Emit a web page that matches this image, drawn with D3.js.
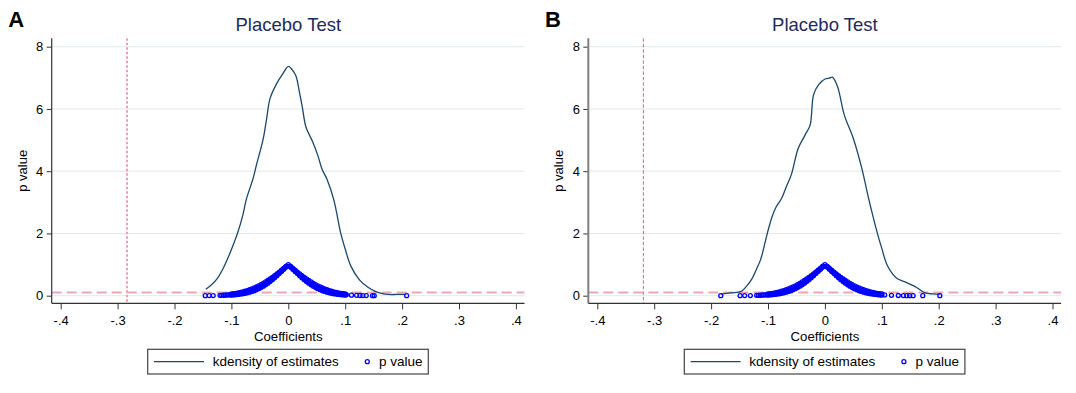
<!DOCTYPE html>
<html>
<head>
<meta charset="utf-8">
<script src="https://cdn.jsdelivr.net/npm/d3@7"></script>
<style>
  html, body { margin: 0; padding: 0; background: #fff; }
  svg { display: block; font-family: "Liberation Sans", Arial, sans-serif; }
</style>
</head>
<body>
<svg id="chart" width="1076" height="393"></svg>
<script>
// ---------------- DATA ----------------
const panelLabels = ["A", "B"];
const chartTitle = "Placebo Test";
const xTicks = [-0.4, -0.3, -0.2, -0.1, 0, 0.1, 0.2, 0.3, 0.4];
const yTicks = [0, 2, 4, 6, 8];
const xLabel = "Coefficients";
const yLabel = "p value";
const legendLabels = ["kdensity of estimates", "p value"];

// true-effect reference lines (vertical) and p = 0.1 line (horizontal)
const trueCoefA = -0.2835;
const trueCoefB = -0.319;
const pThreshold = 0.1;

// kernel density of placebo estimates [coefficient, density]
const kdensA = [
  [-0.145,0.21],[-0.135,0.35],[-0.125,0.55],[-0.115,0.86],[-0.105,1.26],[-0.095,1.72],
  [-0.089,2.02],[-0.080,2.58],[-0.074,3.08],[-0.062,3.76],[-0.056,4.2],[-0.044,5.05],
  [-0.038,5.7],[-0.032,6.34],[-0.020,6.83],[-0.010,7.12],[0.000,7.37],[0.005,7.3],
  [0.013,7.08],[0.020,6.5],[0.025,6.02],[0.031,5.42],[0.043,4.94],[0.052,4.5],
  [0.059,4.08],[0.068,3.74],[0.080,3.08],[0.092,2.02],[0.100,1.5],[0.110,0.95],
  [0.125,0.51],[0.140,0.27],[0.152,0.15],[0.165,0.07],[0.176,0.04],[0.190,0.04],[0.206,0.045]
];
const kdensB = [
  [-0.183,0.05],[-0.165,0.09],[-0.147,0.14],[-0.138,0.3],[-0.128,0.55],[-0.12,0.86],
  [-0.113,1.16],[-0.107,1.57],[-0.101,2.02],[-0.093,2.53],[-0.086,2.84],[-0.076,3.13],
  [-0.068,3.49],[-0.059,3.89],[-0.047,4.73],[-0.035,5.16],[-0.026,5.48],[-0.02,6.45],
  [-0.011,6.78],[0.001,6.97],[0.008,6.99],[0.013,7.02],[0.022,6.73],[0.034,5.81],
  [0.05,5.05],[0.065,4.08],[0.077,3.11],[0.092,2.02],[0.1,1.52],[0.11,0.96],
  [0.125,0.58],[0.14,0.45],[0.158,0.3],[0.176,0.09],[0.19,0.06],[0.203,0.05]
];

// p values of placebo estimates [coefficient, p] (centre of the dense band + sparse tails)
const pvalA = [
  [-0.146,0.002],[-0.139,0.003],[-0.132,0.005],[-0.120,0.011],
  [-0.117,0.013],[-0.114,0.015],[-0.111,0.018],[-0.108,0.022],[-0.105,0.025],[-0.102,0.030],
  [-0.099,0.035],[-0.096,0.041],[-0.093,0.048],[-0.090,0.055],[-0.087,0.064],[-0.084,0.074],
  [-0.081,0.085],[-0.078,0.097],[-0.075,0.110],[-0.072,0.126],[-0.069,0.142],[-0.066,0.160],
  [-0.063,0.180],[-0.060,0.202],[-0.057,0.225],[-0.054,0.251],[-0.051,0.278],[-0.048,0.307],
  [-0.045,0.338],[-0.042,0.372],[-0.039,0.407],[-0.036,0.444],[-0.033,0.483],[-0.030,0.523],
  [-0.027,0.566],[-0.024,0.610],[-0.021,0.655],[-0.018,0.702],[-0.015,0.750],[-0.012,0.798],
  [-0.009,0.848],[-0.006,0.898],[-0.003,0.949],[0.000,1.000],
  [0.003,0.949],[0.006,0.898],[0.009,0.848],[0.012,0.798],[0.015,0.750],[0.018,0.702],
  [0.021,0.655],[0.024,0.610],[0.027,0.566],[0.030,0.523],[0.033,0.483],[0.036,0.444],
  [0.039,0.407],[0.042,0.372],[0.045,0.338],[0.048,0.307],[0.051,0.278],[0.054,0.251],
  [0.057,0.225],[0.060,0.202],[0.063,0.180],[0.066,0.160],[0.069,0.142],[0.072,0.126],
  [0.075,0.110],[0.078,0.097],[0.081,0.085],[0.084,0.074],[0.087,0.064],[0.090,0.055],
  [0.093,0.048],[0.096,0.041],[0.099,0.035],[0.102,0.030],
  [0.111,0.018],[0.120,0.011],[0.126,0.007],[0.131,0.005],[0.137,0.004],
  [0.148,0.002],[0.151,0.001],[0.208,0.000]
];
const pvalB = [
  [-0.183,0.000],[-0.149,0.002],[-0.141,0.003],[-0.131,0.005],
  [-0.120,0.011],[-0.117,0.013],[-0.114,0.015],[-0.111,0.018],[-0.108,0.022],[-0.105,0.025],
  [-0.102,0.030],[-0.099,0.035],[-0.096,0.041],[-0.093,0.048],[-0.090,0.055],[-0.087,0.064],
  [-0.084,0.074],[-0.081,0.085],[-0.078,0.097],[-0.075,0.110],[-0.072,0.126],[-0.069,0.142],
  [-0.066,0.160],[-0.063,0.180],[-0.060,0.202],[-0.057,0.225],[-0.054,0.251],[-0.051,0.278],
  [-0.048,0.307],[-0.045,0.338],[-0.042,0.372],[-0.039,0.407],[-0.036,0.444],[-0.033,0.483],
  [-0.030,0.523],[-0.027,0.566],[-0.024,0.610],[-0.021,0.655],[-0.018,0.702],[-0.015,0.750],
  [-0.012,0.798],[-0.009,0.848],[-0.006,0.898],[-0.003,0.949],[0.000,1.000],
  [0.003,0.949],[0.006,0.898],[0.009,0.848],[0.012,0.798],[0.015,0.750],[0.018,0.702],
  [0.021,0.655],[0.024,0.610],[0.027,0.566],[0.030,0.523],[0.033,0.483],[0.036,0.444],
  [0.039,0.407],[0.042,0.372],[0.045,0.338],[0.048,0.307],[0.051,0.278],[0.054,0.251],
  [0.057,0.225],[0.060,0.202],[0.063,0.180],[0.066,0.160],[0.069,0.142],[0.072,0.126],
  [0.075,0.110],[0.078,0.097],[0.081,0.085],[0.084,0.074],[0.087,0.064],[0.090,0.055],
  [0.093,0.048],[0.096,0.041],[0.099,0.035],
  [0.105,0.025],[0.117,0.013],[0.129,0.006],[0.138,0.003],[0.144,0.002],[0.149,0.002],
  [0.155,0.001],[0.172,0.000],[0.202,0.000]
];
// upper and lower edges of the dense p-value band (same in both panels) [|coefficient|, p]
const pvalBandUpper = [
  [0.004,0.939],[0.008,0.878],[0.012,0.817],[0.016,0.758],[0.020,0.701],[0.024,0.644],
  [0.028,0.590],[0.032,0.538],[0.036,0.489],[0.040,0.442],[0.044,0.397],[0.048,0.356],
  [0.052,0.317],[0.056,0.281],[0.060,0.249],[0.064,0.218],[0.068,0.191],[0.072,0.166],
  [0.076,0.144],[0.080,0.124],[0.084,0.106],[0.088,0.091],[0.092,0.077],[0.096,0.065],[0.100,0.054]
];
const pvalBandLower = [
  [0.004,0.926],[0.008,0.852],[0.012,0.780],[0.016,0.710],[0.020,0.642],[0.024,0.577],
  [0.028,0.515],[0.032,0.457],[0.036,0.403],[0.040,0.352],[0.044,0.306],[0.048,0.264],
  [0.052,0.227],[0.056,0.193],[0.060,0.163],[0.064,0.137],[0.068,0.114],[0.072,0.094],
  [0.076,0.077],[0.080,0.063],[0.084,0.051],[0.088,0.041],[0.092,0.032],[0.096,0.026],[0.100,0.020]
];

// ---------------- DRAW ----------------
const svg = d3.select("#chart");
const FONT = '"Liberation Sans", Arial, sans-serif';

const panels = [
  { off: 0,     label: panelLabels[0], kd: kdensA, pv: pvalA, vline: trueCoefA,
    vStyle: { color: "#eba1b2", width: 2, dash: "2.5,2" }, yAxisColor: "#333", yAxisWidth: 1.2 },
  { off: 536.6, label: panelLabels[1], kd: kdensB, pv: pvalB, vline: trueCoefB,
    vStyle: { color: "#e2607f", width: 1, dash: "3.5,2" }, yAxisColor: "#808080", yAxisWidth: 2 }
];

const fmtX = d => d === 0 ? "0" : (d < 0 ? "-" : "") + "." + Math.round(Math.abs(d) * 10);

// band edge points mirrored to both signs of the coefficient
const bandEdges = [];
[pvalBandUpper, pvalBandLower].forEach(arr => arr.forEach(d => {
  bandEdges.push([-d[0], d[1]]);
  bandEdges.push([d[0], d[1]]);
}));

panels.forEach(p => {
  const o = p.off;
  const axisX = 51.7 + o, plotRight = 524.5 + o, plotTop = 38.3, axisY = 303.3;
  const x = d3.scaleLinear().domain([-0.4, 0.4]).range([60.7 + o, 515.9 + o]);
  const y = d3.scaleLinear().domain([0, 8]).range([295.7, 46.7]);
  const g = svg.append("g");

  // panel letter
  g.append("text").attr("x", 8.3 + o).attr("y", 27.3)
    .attr("font-size", 22).attr("font-weight", "bold").attr("fill", "#000")
    .attr("font-family", FONT).text(p.label);

  // title
  g.append("text").attr("x", x(0)).attr("y", 30.7).attr("text-anchor", "middle")
    .attr("font-size", 18.5).attr("fill", "#1c2b5c").attr("font-family", FONT).text(chartTitle);

  // gridlines
  g.append("g").selectAll("line").data(yTicks).join("line")
    .attr("x1", axisX).attr("x2", plotRight)
    .attr("y1", d => y(d)).attr("y2", d => y(d))
    .attr("stroke", "#dfe9ec").attr("stroke-width", 1);

  // vertical reference line
  g.append("line").attr("x1", x(p.vline)).attr("x2", x(p.vline))
    .attr("y1", plotTop).attr("y2", axisY)
    .attr("stroke", p.vStyle.color).attr("stroke-width", p.vStyle.width)
    .attr("stroke-dasharray", p.vStyle.dash);

  // horizontal reference line
  g.append("line").attr("x1", axisX).attr("x2", plotRight)
    .attr("y1", y(pThreshold)).attr("y2", y(pThreshold))
    .attr("stroke", "#eba7b3").attr("stroke-width", 2).attr("stroke-dasharray", "10,5");

  // kdensity line
  const line = d3.line().x(d => x(d[0])).y(d => y(d[1])).curve(d3.curveCatmullRom.alpha(0.5));
  g.append("path").datum(p.kd).attr("d", line)
    .attr("fill", "none").attr("stroke", "#1a476f").attr("stroke-width", 1.3);

  // p value markers
  g.append("g").selectAll("circle").data(p.pv.concat(bandEdges)).join("circle")
    .attr("cx", d => x(d[0])).attr("cy", d => y(d[1])).attr("r", 2)
    .attr("fill", "none").attr("stroke", "#0000ff").attr("stroke-width", 1.3);

  // y axis
  const ya = g.append("g").attr("transform", `translate(${axisX},0)`)
    .call(d3.axisLeft(y).tickValues(yTicks).tickSize(5).tickPadding(3.4).tickFormat(d3.format("d")));
  ya.select(".domain").remove();
  ya.selectAll(".tick line").attr("stroke", "#333");
  ya.selectAll(".tick text").attr("font-size", 13).attr("fill", "#000").attr("font-family", FONT);
  g.append("line").attr("x1", axisX).attr("x2", axisX).attr("y1", plotTop).attr("y2", axisY)
    .attr("stroke", p.yAxisColor).attr("stroke-width", p.yAxisWidth);

  // x axis
  const xa = g.append("g").attr("transform", `translate(0,${axisY})`)
    .call(d3.axisBottom(x).tickValues(xTicks).tickSize(6).tickPadding(6).tickFormat(fmtX));
  xa.select(".domain").remove();
  xa.selectAll(".tick line").attr("stroke", "#333");
  xa.selectAll(".tick text").attr("font-size", 13).attr("fill", "#000").attr("font-family", FONT);
  g.append("line").attr("x1", axisX).attr("x2", plotRight).attr("y1", axisY).attr("y2", axisY)
    .attr("stroke", "#333").attr("stroke-width", 1.2);

  // axis titles
  g.append("text").attr("x", x(0)).attr("y", 340.5).attr("text-anchor", "middle")
    .attr("font-size", 13.2).attr("fill", "#000").attr("font-family", FONT).text(xLabel);
  g.append("text").attr("transform", `translate(${26.5 + o},170.8) rotate(-90)`)
    .attr("text-anchor", "middle").attr("font-size", 13).attr("fill", "#000")
    .attr("font-family", FONT).text(yLabel);

  // legend
  const lg = g.append("g");
  lg.append("rect").attr("x", 147.7 + o).attr("y", 349.3).attr("width", 280.6).attr("height", 24.7)
    .attr("fill", "#fff").attr("stroke", "#444").attr("stroke-width", 1.2);
  lg.append("line").attr("x1", 154 + o).attr("x2", 204 + o).attr("y1", 361.7).attr("y2", 361.7)
    .attr("stroke", "#1a476f").attr("stroke-width", 1.3);
  lg.append("text").attr("x", 212.7 + o).attr("y", 366.4).attr("font-size", 13.5)
    .attr("fill", "#000").attr("font-family", FONT).text(legendLabels[0]);
  lg.append("circle").attr("cx", 367.3 + o).attr("cy", 361.7).attr("r", 2)
    .attr("fill", "none").attr("stroke", "#0000ff").attr("stroke-width", 1.3);
  lg.append("text").attr("x", 379 + o).attr("y", 366.4).attr("font-size", 13.5)
    .attr("fill", "#000").attr("font-family", FONT).text(legendLabels[1]);
});
</script>
</body>
</html>
